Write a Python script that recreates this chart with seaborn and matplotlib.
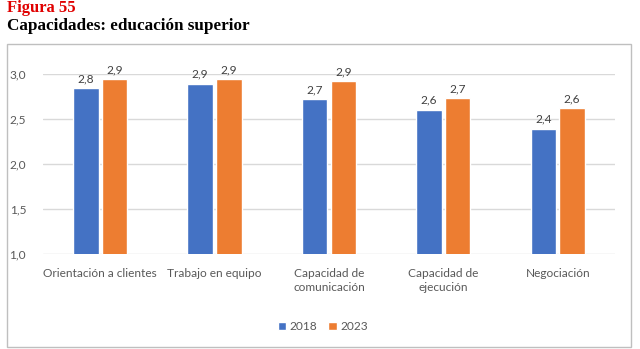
import matplotlib
matplotlib.use("Agg")
import matplotlib.pyplot as plt
import seaborn as sns
import pandas as pd
from matplotlib.patches import Rectangle

categories = ["Orientación a clientes", "Trabajo en equipo", "Capacidad de\ncomunicación",
              "Capacidad de\nejecución", "Negociación"]
years = ["2018", "2023"]
values_2018 = [2.84, 2.89, 2.72, 2.60, 2.39]
values_2023 = [2.94, 2.94, 2.92, 2.73, 2.62]
yticks = [1.0, 1.5, 2.0, 2.5, 3.0]

df = pd.DataFrame({
    "cat": categories * 2,
    "year": [years[0]] * len(categories) + [years[1]] * len(categories),
    "val": values_2018 + values_2023,
})

sns.set_theme(style="white")
plt.rcParams["font.family"] = ["Lato", "DejaVu Sans"]

fig = plt.figure(figsize=(6.4, 3.49), dpi=100)
ax = fig.add_axes([0.067, 0.271, 0.894, 0.517])

palette = {"2018": "#4472C4", "2023": "#ED7D31"}
sns.barplot(data=df, x="cat", y="val", hue="year", palette=palette, ax=ax,
            width=0.5, gap=0.11, saturation=1, legend=True, zorder=3)

ax.set_ylim(1.0, 3.0)
ax.set_yticks(yticks)
ax.set_yticklabels([f"{t:.1f}".replace(".", ",") for t in yticks])
ax.set_xlim(-0.5, len(categories) - 0.5)
ax.set_xlabel("")
ax.set_ylabel("")
ax.yaxis.grid(True, color="#D9D9D9", linewidth=1, zorder=0)
for s in ax.spines.values():
    s.set_visible(False)
ax.tick_params(axis="both", length=0, labelsize=8.6, labelcolor="#595959")
ax.tick_params(axis="y", pad=12)
ax.tick_params(axis="x", pad=10)
for t in ax.get_xticklabels():
    t.set_linespacing(1.25)

for cont in ax.containers:
    ax.bar_label(cont, labels=[f"{b.get_height():.1f}".replace(".", ",") for b in cont],
                 padding=3, fontsize=8.6, color="#404040")

handles, labels = ax.get_legend_handles_labels()
ax.legend(handles, labels, loc="center", bbox_to_anchor=(0.4895, -0.40),
          bbox_transform=ax.transAxes, ncol=2, frameon=False, fontsize=8.6,
          handlelength=0.7, handleheight=0.7, handletextpad=0.3, columnspacing=0.9,
          labelcolor="#595959")

fig.add_artist(Rectangle((7 / 640, 1 - 346.5 / 349), 624 / 640, 302.5 / 349,
                         transform=fig.transFigure, fill=False,
                         edgecolor="#BFBFBF", linewidth=1))

fig.text(7 / 640, 1 - 0.5 / 349, "Figura 55", ha="left", va="top", fontsize=12,
         fontweight="bold", color="#E00000", family=["Liberation Serif"])
fig.text(7 / 640, 1 - 18.5 / 349, "Capacidades: educación superior", ha="left", va="top",
         fontsize=12.3, fontweight="bold", color="black", family=["Liberation Serif"])

fig.savefig("out.png", dpi=100)
